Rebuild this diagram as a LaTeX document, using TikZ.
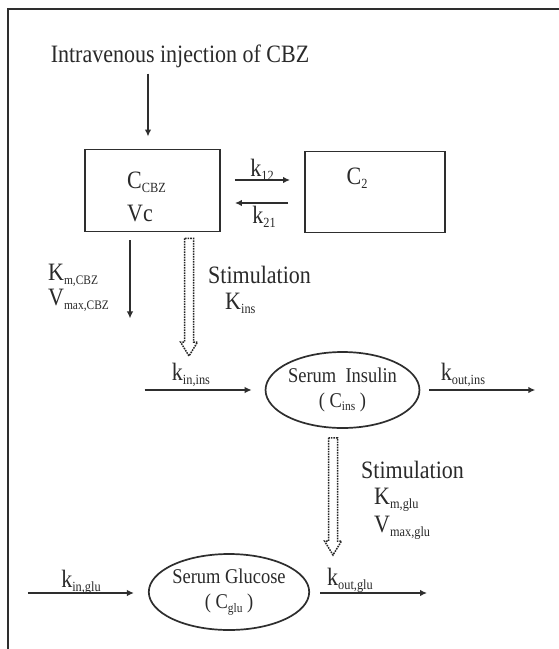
\documentclass[tikz,border=0pt]{standalone}
\usepackage{fontspec}
\setmainfont{Liberation Serif}[FakeStretch=0.88]
\usetikzlibrary{arrows.meta,shapes.geometric,calc}
\definecolor{ink}{HTML}{2E2E2E}
\definecolor{txt}{HTML}{2A2A2A}
\newcommand\lowsub[2][14]{\raisebox{-0.35ex}{\fontsize{#1}{#1}\selectfont #2}}
\newcommand\stimarrow[2]{\draw[stim] ($(#1)+(-4.5,0)$) -- ($(#2)+(-4.5,-14)$) -- ($(#2)+(-8.5,-14)$) -- (#2) -- ($(#2)+(8.5,-14)$) -- ($(#2)+(4.5,-14)$) -- ($(#1)+(4.5,0)$) -- cycle;}
\begin{document}
\begin{tikzpicture}[x=1pt,y=-1pt,
  lbl/.style={inner sep=0pt, font=\fontsize{25}{28}\selectfont, text=txt},
  arr/.style={draw=ink, line width=1.5pt, -{Latex[length=7pt,width=6.5pt]}},
  cbox/.style={draw=ink, line width=1.9pt, minimum width=135pt, minimum height=82pt, inner sep=0pt},
  comp/.style={ellipse, draw=ink, line width=1.7pt, minimum width=141pt, inner sep=0pt, align=center, text=txt, font=\fontsize{21}{25}\selectfont},
  stim/.style={draw=black!85, line width=1.5pt, dash pattern=on 1.6pt off 1pt}]
\useasboundingbox (0,0) rectangle (559,649);
\fill[white] (0,0) rectangle (559,649);
\draw[ink, line width=1.5pt] (8,649) -- (8,9) -- (559,9);

% top part
\node[lbl] (title) at (180,56) {Intravenous injection of CBZ};
\node[cbox] (box1) at (152.5,190.5) {};
\node[cbox, minimum width=140pt, minimum height=81pt] (box2) at (375,192) {};
\node[lbl, anchor=west] (ccbz) at (127,182) {C\lowsub{CBZ}};
\node[lbl, anchor=west] (vc) at (127,213) {Vc};
\node[lbl] (c2) at (357,178) {C\lowsub{2}};
\coordinate (injtop) at ($(title.south -| box1.north)+(-4.5,6)$);
\coordinate (injend) at ($(box1.north)+(-4.5,-12)$);
\draw[arr] (injtop) -- (injend);

\draw[arr] ($(box1.east)+(14,-10.5)$) -- ($(box2.west)+(-14,-12)$);
\draw[arr] ($(box2.west)+(-16,11)$) -- ($(box1.east)+(14,12.5)$);
\node[lbl] (k12) at (262,170) {k\lowsub{12}};
\node[lbl] (k21) at (264,217) {k\lowsub{21}};

% elimination
\coordinate (elimend) at ($(box1.south)+(-22.5,86)$);
\draw[arr] ($(box1.south)+(-22.5,8)$) -- (elimend);
\node[lbl, anchor=west] (kmcbz) at (48,275) {K\lowsub[13]{m,CBZ}};
\node[lbl, anchor=west] (vmcbz) at (48,300) {V\lowsub[13]{max,CBZ}};

% stimulation 1
\coordinate (s1top) at ($(box1.south)+(36.5,6)$);
\coordinate (s1tip) at (189,356);
\stimarrow{s1top}{s1tip}
\node[lbl, anchor=west] (stim1) at (208,275) {Stimulation};
\node[lbl, anchor=west] (kins) at (225,303) {K\lowsub{ins}};

% insulin
\node[comp, minimum height=76pt] (ins) at (342.5,390) {Serum~ Insulin\\( C\lowsub[13]{ins} )};
\draw[arr] ($(ins.west)+(-120,0)$) -- ($(ins.west)+(-13,0)$);
\node[lbl] (kinins) at (191,375) {k\lowsub{in,ins}};
\draw[arr] ($(ins.east)+(9,0)$) -- ($(ins.east)+(115,0)$);
\node[lbl] (koutins) at (463,375) {k\lowsub{out,ins}};

% stimulation 2
\coordinate (s2top) at ($(ins.south)+(-9.5,9)$);
\coordinate (s2tip) at (333,555);
\stimarrow{s2top}{s2tip}
\node[lbl, anchor=west] (stim2) at (361,470) {Stimulation};
\node[lbl, anchor=west] (kmglu) at (374,500) {K\lowsub{m,glu}};
\node[lbl, anchor=west] (vmglu) at (374,528) {V\lowsub{max,glu}};

% glucose
\node[comp, minimum height=76pt] (glu) at (229,592) {Serum Glucose\\( C\lowsub[13]{glu} )};
\draw[arr] ($(glu.west)+(-120,1)$) -- ($(glu.west)+(-14,1)$);
\node[lbl] (kinglu) at (81,582) {k\lowsub{in,glu}};
\draw[arr] ($(glu.east)+(10,1)$) -- ($(glu.east)+(117,1)$);
\node[lbl] (koutglu) at (350,580) {k\lowsub{out,glu}};
\end{tikzpicture}
\end{document}
